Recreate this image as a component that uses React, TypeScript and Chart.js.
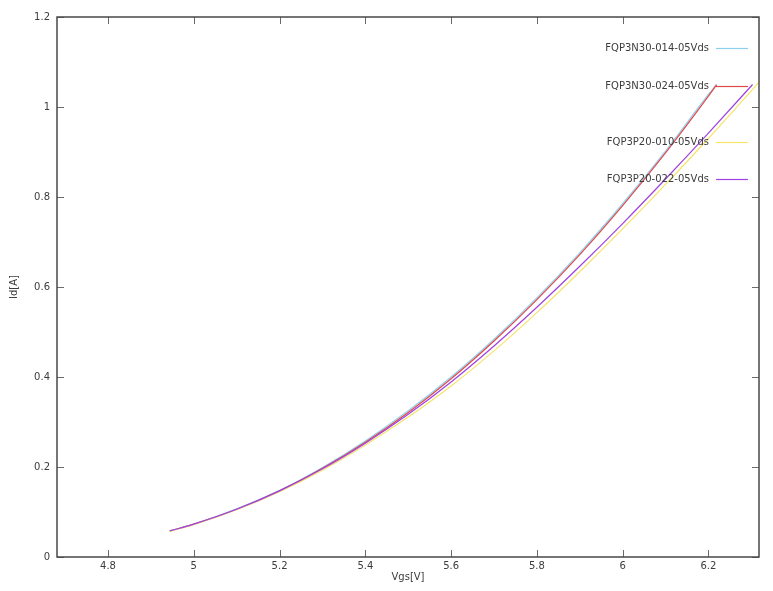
import React, { useEffect, useRef } from "react";
import { Chart, registerables } from "chart.js";

Chart.register(...registerables);

// ---- data ----
const xTicks = [4.8, 5.0, 5.2, 5.4, 5.6, 5.8, 6.0, 6.2];
const yTicks = [0, 0.2, 0.4, 0.6, 0.8, 1.0, 1.2];

const seriesNames = [
  "FQP3N30-014-05Vds",
  "FQP3N30-024-05Vds",
  "FQP3P20-010-05Vds",
  "FQP3P20-022-05Vds",
];

const vgsN30_014 = [4.944, 5.0, 5.1, 5.2, 5.3, 5.4, 5.5, 5.6, 5.7, 5.8, 5.9, 6.0, 6.1, 6.2, 6.219];
const idN30_014 = [0.058, 0.073, 0.107, 0.148, 0.199, 0.258, 0.325, 0.4, 0.484, 0.576, 0.676, 0.785, 0.902, 1.028, 1.05];

const vgsN30_024 = [4.944, 5.0, 5.1, 5.2, 5.3, 5.4, 5.5, 5.6, 5.7, 5.8, 5.9, 6.0, 6.1, 6.2, 6.219];
const idN30_024 = [0.058, 0.073, 0.106, 0.147, 0.197, 0.255, 0.321, 0.396, 0.48, 0.572, 0.672, 0.781, 0.898, 1.024, 1.049];

const vgsP20_010 = [4.944, 5.0, 5.1, 5.2, 5.3, 5.4, 5.5, 5.6, 5.7, 5.8, 5.9, 6.0, 6.1, 6.2, 6.3, 6.318];
const idP20_010 = [0.057, 0.072, 0.105, 0.145, 0.193, 0.249, 0.311, 0.38, 0.458, 0.543, 0.634, 0.729, 0.828, 0.93, 1.036, 1.055];

const vgsP20_022 = [4.944, 5.0, 5.1, 5.2, 5.3, 5.4, 5.5, 5.6, 5.7, 5.8, 5.9, 6.0, 6.1, 6.2, 6.303];
const idP20_022 = [0.058, 0.073, 0.106, 0.147, 0.196, 0.253, 0.317, 0.389, 0.469, 0.555, 0.646, 0.741, 0.84, 0.942, 1.05];

const xRange = [4.681, 6.318];
const yRange = [0, 1.2];

const colors = ["#8fd0f0", "#e04848", "#f4e46c", "#a040e0"];

const FONT = '"DejaVu Sans", Verdana, sans-serif';
const TEXT = "#3c3c3c";

const toPoints = (xs: number[], ys: number[]) => xs.map((x, i) => ({ x, y: ys[i] }));

const fmt = (v: number) => String(Number(v.toFixed(2)));

const framePlugin = {
  id: "gnuFrame",
  afterDatasetsDraw(chart: any) {
    const { ctx, chartArea: a, scales } = chart;
    const xs = scales.x;
    const ys = scales.y;
    ctx.save();
    // inward tick marks on all four sides
    ctx.strokeStyle = "#6a6a6a";
    ctx.lineWidth = 1;
    ctx.beginPath();
    for (const v of xTicks) {
      const px = Math.round(xs.getPixelForValue(v)) + 0.5;
      ctx.moveTo(px, a.bottom);
      ctx.lineTo(px, a.bottom - 7);
      ctx.moveTo(px, a.top);
      ctx.lineTo(px, a.top + 7);
    }
    for (const v of yTicks) {
      const py = Math.round(ys.getPixelForValue(v)) + 0.5;
      ctx.moveTo(a.left, py);
      ctx.lineTo(a.left + 7, py);
      ctx.moveTo(a.right, py);
      ctx.lineTo(a.right - 7, py);
    }
    ctx.stroke();
    // border
    ctx.strokeStyle = "#484848";
    ctx.lineWidth = 1.5;
    ctx.strokeRect(a.left, a.top, a.right - a.left, a.bottom - a.top);

    // key (gnuplot style, text right aligned, sample line to the right)
    const keyY = [48, 86, 142, 179];
    const textRight = 709;
    const lineX0 = 716;
    const lineX1 = 748;
    ctx.font = "10px " + FONT;
    ctx.fillStyle = TEXT;
    ctx.textAlign = "right";
    ctx.textBaseline = "middle";
    seriesNames.forEach((name, i) => {
      ctx.fillText(name, textRight, keyY[i]);
      ctx.strokeStyle = colors[i];
      ctx.lineWidth = 1.2;
      ctx.beginPath();
      ctx.moveTo(lineX0, keyY[i] + 0.5);
      ctx.lineTo(lineX1, keyY[i] + 0.5);
      ctx.stroke();
    });
    ctx.restore();
  },
};

export default function App() {
  const ref = useRef<HTMLCanvasElement | null>(null);

  useEffect(() => {
    if (!ref.current) return;
    const xsArr = [vgsN30_014, vgsN30_024, vgsP20_010, vgsP20_022];
    const ysArr = [idN30_014, idN30_024, idP20_010, idP20_022];
    const orders = [4, 3, 2, 1];
    const chart = new Chart(ref.current, {
      type: "line",
      data: {
        datasets: seriesNames.map((name, i) => ({
          label: name,
          data: toPoints(xsArr[i], ysArr[i]),
          borderColor: colors[i],
          backgroundColor: colors[i],
          borderWidth: 1.2,
          pointRadius: 0,
          fill: false,
          cubicInterpolationMode: "monotone" as const,
          order: orders[i],
        })),
      },
      options: {
        animation: false,
        responsive: false,
        devicePixelRatio: 1,
        layout: { padding: { left: 0, right: 14, top: 17, bottom: 0 } },
        plugins: {
          legend: { display: false },
          tooltip: { enabled: false },
        },
        scales: {
          x: {
            type: "linear",
            min: xRange[0],
            max: xRange[1],
            afterBuildTicks: (scale: any) => {
              scale.ticks = xTicks.map((v) => ({ value: v }));
            },
            afterFit: (scale: any) => {
              scale.height = 34;
            },
            grid: { display: false, drawTicks: false },
            border: { display: false },
            ticks: {
              padding: 3,
              color: TEXT,
              font: { family: FONT, size: 10 },
              maxRotation: 0,
              autoSkip: false,
              callback: (v: any) => fmt(Number(v)),
            },
            title: {
              display: true,
              text: "Vgs[V]",
              color: TEXT,
              font: { family: FONT, size: 10 },
              padding: { top: 0, bottom: 8 },
            },
          },
          y: {
            type: "linear",
            min: yRange[0],
            max: yRange[1],
            afterBuildTicks: (scale: any) => {
              scale.ticks = yTicks.map((v) => ({ value: v }));
            },
            afterFit: (scale: any) => {
              scale.width = 57;
            },
            grid: { display: false, drawTicks: false },
            border: { display: false },
            ticks: {
              padding: 7,
              color: TEXT,
              font: { family: FONT, size: 10 },
              autoSkip: false,
              callback: (v: any) => fmt(Number(v)),
            },
            title: {
              display: true,
              text: "Id[A]",
              color: TEXT,
              font: { family: FONT, size: 10 },
              padding: { top: 8, bottom: 0 },
            },
          },
        },
      },
      plugins: [framePlugin],
    });
    return () => chart.destroy();
  }, []);

  return (
    <div style={{ position: "fixed", left: 0, top: 0, width: 773, height: 591, background: "#fff" }}>
      <canvas ref={ref} width={773} height={591} style={{ width: 773, height: 591, display: "block" }} />
    </div>
  );
}
